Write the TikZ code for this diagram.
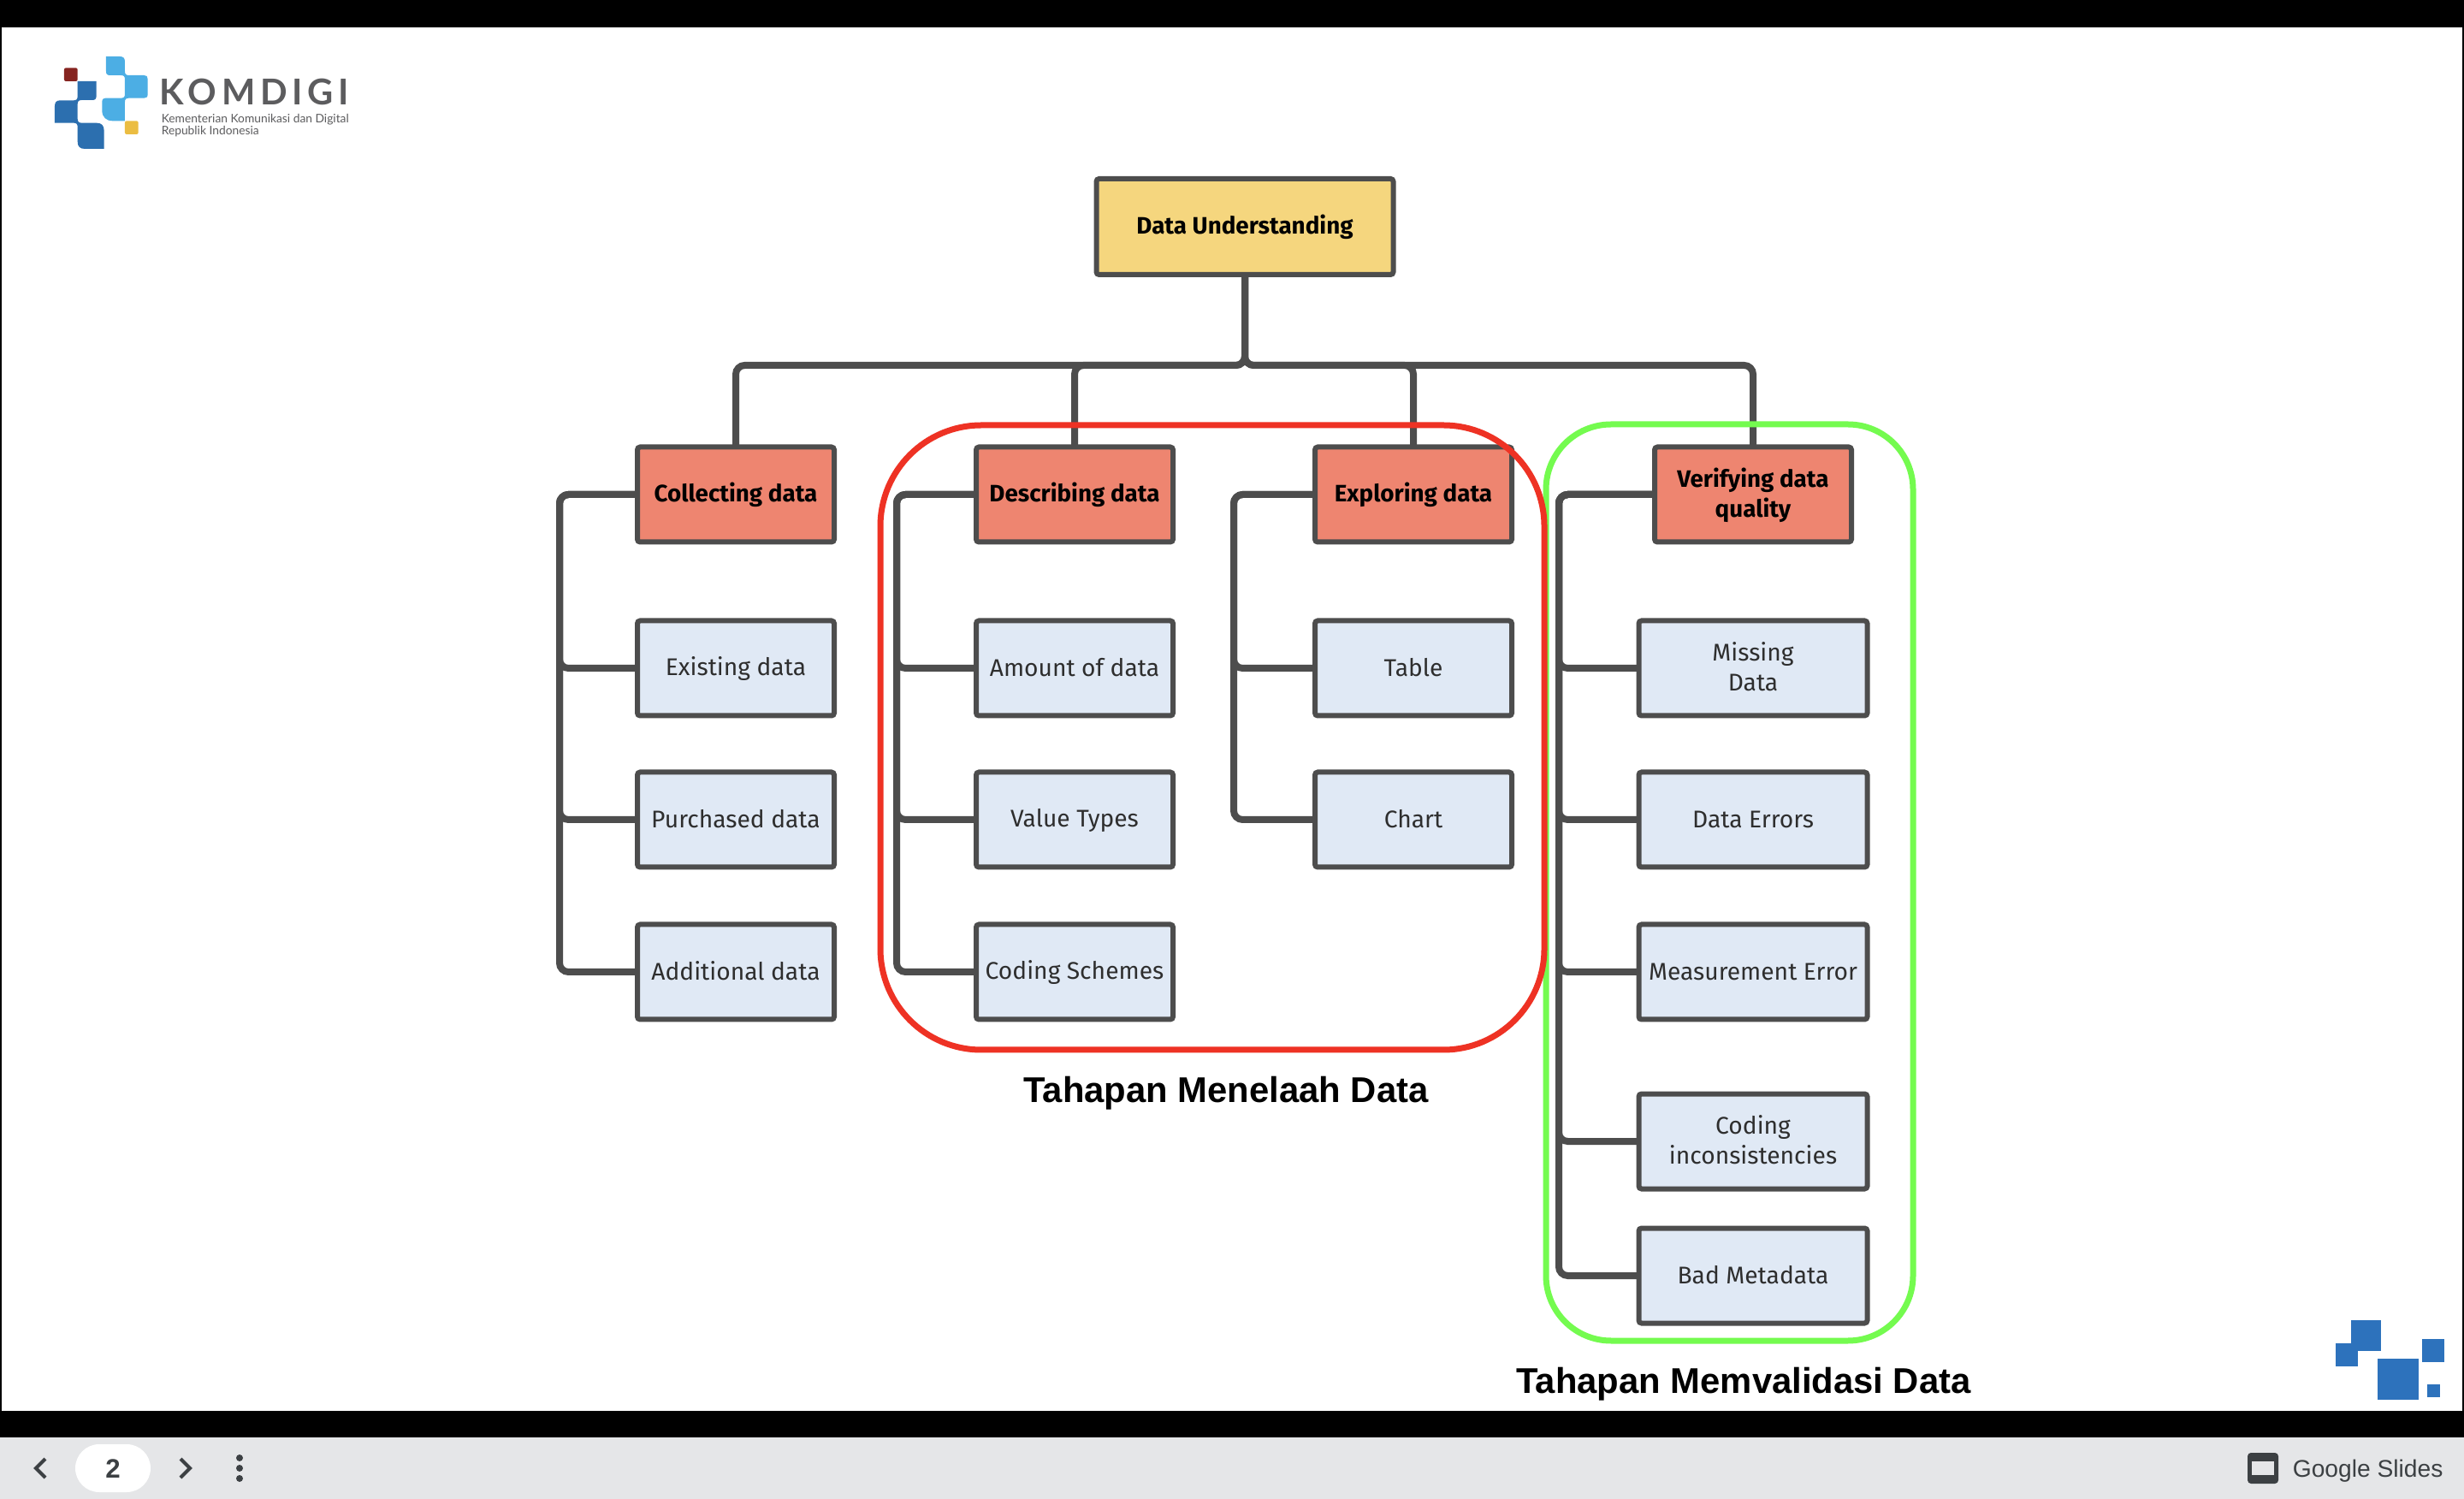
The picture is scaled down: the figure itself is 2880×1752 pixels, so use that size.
\documentclass[tikz,border=0pt]{standalone}
\usepackage{fontspec}
\setmainfont{Fira Sans}
\newfontfamily\capfont{Liberation Sans}
\newfontfamily\logofont[LetterSpace=14]{Lato}
\newfontfamily\subfont{Lato}
\newfontfamily\uifont{Liberation Sans}
\newcommand{\lnst}{\rule[-1.4pt]{0pt}{7.35pt}}
\definecolor{edge}{HTML}{4D4D4D}
\definecolor{headfill}{HTML}{EE8570}
\definecolor{rootfill}{HTML}{F5D67E}
\definecolor{leaffill}{HTML}{E0E9F5}
\definecolor{barfill}{HTML}{E5E6E8}
\definecolor{uigray}{HTML}{3C4043}
\definecolor{redring}{HTML}{EE3224}
\definecolor{greenring}{HTML}{74FB4F}
\definecolor{logodark}{HTML}{2C6FAF}
\definecolor{logolight}{HTML}{4CAEE4}
\definecolor{logored}{HTML}{862420}
\definecolor{logoyellow}{HTML}{EBBD42}
\definecolor{logotext}{HTML}{5C5C5E}
\definecolor{cornerblue}{HTML}{2D72BC}
\tikzset{
  basebox/.style={draw=edge,line width=1.5pt,rounded corners=0.8pt,align=center,inner sep=0pt,outer sep=0pt,minimum height=27.75pt,minimum width=57.5pt,font=\fontsize{7.05}{8.9}\selectfont,text=black!82},
  leafbox/.style={basebox,fill=leaffill},
  widebox/.style={leafbox,minimum width=66.75pt},
  headbox/.style={basebox,fill=headfill,font=\fontsize{6.95}{8.9}\selectfont\bfseries,text=black},
  rootbox/.style={headbox,fill=rootfill,minimum width=86.75pt,minimum height=28pt},
  conn/.style={draw=edge,line width=2pt,rounded corners=2.6pt},
  ring/.style={line width=1.75pt},
  capt/.style={font=\capfont\bfseries\fontsize{10.45}{13}\selectfont,inner sep=0pt,text=black},
}
\begin{document}
\begin{tikzpicture}[x=0.25pt,y=-0.25pt]
\useasboundingbox (0,0) rectangle (2880,1752);
% window
\fill[black] (0,0) rectangle (2880,1680);
\fill[white] (2,32) rectangle (2878,1649);
\fill[barfill] (0,1680) rectangle (2880,1752);

% logo
\begin{scope}[x=0.25pt/3,y=-0.25pt/3]
\fill[logored,rounded corners=0.5pt] (225,238) rectangle (272,285);
\fill[logoyellow,rounded corners=0.5pt] (438,424) rectangle (485,471);
\fill[logodark] (272,285) -- (338,285) -- (338,336) .. controls (338,346) and (334,351) .. (324,351) -- (286,351) .. controls (276,351) and (272,356) .. (272,366) -- (272,416) .. controls (272,426) and (276,431) .. (286,431) -- (338,431) .. controls (356,431) and (365,440) .. (365,458) -- (365,522) -- (298,522) .. controls (280,522) and (272,514) .. (272,496) -- (272,445) .. controls (272,435) and (268,431) .. (258,431) -- (192,431) -- (192,372) .. controls (192,358) and (198,352) .. (212,352) -- (258,352) .. controls (268,352) and (272,348) .. (272,338) -- cycle;
\fill[logolight] (372,198) -- (420,198) .. controls (432,198) and (438,204) .. (438,216) -- (438,250) .. controls (438,260) and (442,264) .. (452,264) -- (505,264) .. controls (514,264) and (518,268) .. (518,277) -- (518,330) .. controls (518,340) and (514,344) .. (505,344) -- (452,344) .. controls (442,344) and (438,348) .. (438,358) -- (438,424) -- (395,424) .. controls (372,424) and (358,410) .. (358,388) -- (358,358) .. controls (358,348) and (362,344) .. (372,344) -- (424,344) .. controls (434,344) and (438,340) .. (438,330) -- (438,278) .. controls (438,268) and (434,264) .. (424,264) -- (386,264) .. controls (376,264) and (372,260) .. (372,250) -- cycle;
\end{scope}
\node[anchor=base west,inner sep=0pt,text=logotext,font=\logofont\bfseries\fontsize{10.4}{12}\selectfont] (logoname) at (186,123) {KOMDIGI};
\node[anchor=base west,inner sep=0pt,text=logotext,font=\subfont\fontsize{3.45}{4}\selectfont] (logosubA) at (188,144) {Kementerian Komunikasi dan Digital};
\node[anchor=base west,inner sep=0pt,text=logotext,font=\subfont\fontsize{3.45}{4}\selectfont] (logosubB) at (188,158) {Republik Indonesia};

% rails and bus
\coordinate (bus) at (0,427);
\coordinate (railA) at (654,0);
\coordinate (railB) at (1048,0);
\coordinate (railC) at (1442,0);
\coordinate (railD) at (1822,0);

% boxes
\node[rootbox] (root) at (1455,265) {\lnst Data Understanding};
\node[headbox] (collect) at (860,578) {\lnst Collecting data};
\node[headbox] (describe) at (1256,578) {\lnst Describing data};
\node[headbox] (explore) at (1652,578) {\lnst Exploring data};
\node[headbox] (verify) at (2049,578) {\lnst Verifying data\\\lnst quality};

\node[leafbox] (existing) at (860,781) {\lnst Existing data};
\node[leafbox] (purchased) at (860,958) {\lnst Purchased data};
\node[leafbox] (additional) at (860,1136) {\lnst Additional data};

\node[leafbox] (amount) at (1256,781) {\lnst Amount of data};
\node[leafbox] (valuetypes) at (1256,958) {\lnst Value Types};
\node[leafbox] (schemes) at (1256,1136) {\lnst Coding Schemes};

\node[leafbox] (tablebox) at (1652,781) {\lnst Table};
\node[leafbox] (chartbox) at (1652,958) {\lnst Chart};

\node[widebox] (missing) at (2049,781) {\lnst Missing\\\lnst Data};
\node[widebox] (errors) at (2049,958) {\lnst Data Errors};
\node[widebox] (measure) at (2049,1136) {\lnst Measurement Error};
\node[widebox] (incons) at (2049,1334) {\lnst Coding\\\lnst inconsistencies};
\node[widebox] (metadata) at (2049,1491) {\lnst Bad Metadata};

% connectors
\foreach \c in {collect,describe,explore,verify}
  \draw[conn] (root.south) -- (root.south |- bus) -- (\c.north |- bus) -- (\c.north);
\foreach \c in {existing,purchased,additional}
  \draw[conn] (collect.west) -- (railA |- collect.west) -- (railA |- \c.west) -- (\c.west);
\foreach \c in {amount,valuetypes,schemes}
  \draw[conn] (describe.west) -- (railB |- describe.west) -- (railB |- \c.west) -- (\c.west);
\foreach \c in {tablebox,chartbox}
  \draw[conn] (explore.west) -- (railC |- explore.west) -- (railC |- \c.west) -- (\c.west);
\foreach \c in {missing,errors,measure,incons,metadata}
  \draw[conn] (verify.west) -- (railD |- verify.west) -- (railD |- \c.west) -- (\c.west);

% group rings
\draw[ring,greenring,rounded corners=19pt] (1807,496) rectangle (2236,1567);
\draw[ring,redring,rounded corners=29.5pt] (1029,497) rectangle (1805,1227);

% captions
\node[capt] (captA) at (1433,1278) {Tahapan Menelaah Data};
\node[capt] (captB) at (2038,1618) {Tahapan Memvalidasi Data};

% corner squares
\fill[cornerblue] (2748,1543) rectangle (2783,1579);
\fill[cornerblue] (2730,1570) rectangle (2756,1597);
\fill[cornerblue] (2779,1588) rectangle (2827,1636);
\fill[cornerblue] (2831,1565) rectangle (2857,1592);
\fill[cornerblue] (2837,1618) rectangle (2852,1633);

% slides toolbar
\fill[white,rounded corners=7pt] (88,1688) rectangle (176,1744);
\node[inner sep=0pt,text=uigray,font=\uifont\bfseries\fontsize{7.8}{10}\selectfont] (pagenum) at (132,1717) {2};
\draw[uigray,line width=1pt] (53,1705) -- (42,1716) -- (53,1727);
\draw[uigray,line width=1pt] (211,1705) -- (222,1716) -- (211,1727);
\foreach \yy in {1704,1716,1728} \fill[uigray] (280,\yy) circle (1pt);
\fill[uigray,rounded corners=1pt] (2627,1698) rectangle (2663,1734);
\fill[barfill] (2632,1708) rectangle (2658,1724);
\node[anchor=base west,inner sep=0pt,text=uigray,font=\uifont\fontsize{7.05}{9}\selectfont] (slidesname) at (2679,1726) {Google Slides};
\end{tikzpicture}
\end{document}
